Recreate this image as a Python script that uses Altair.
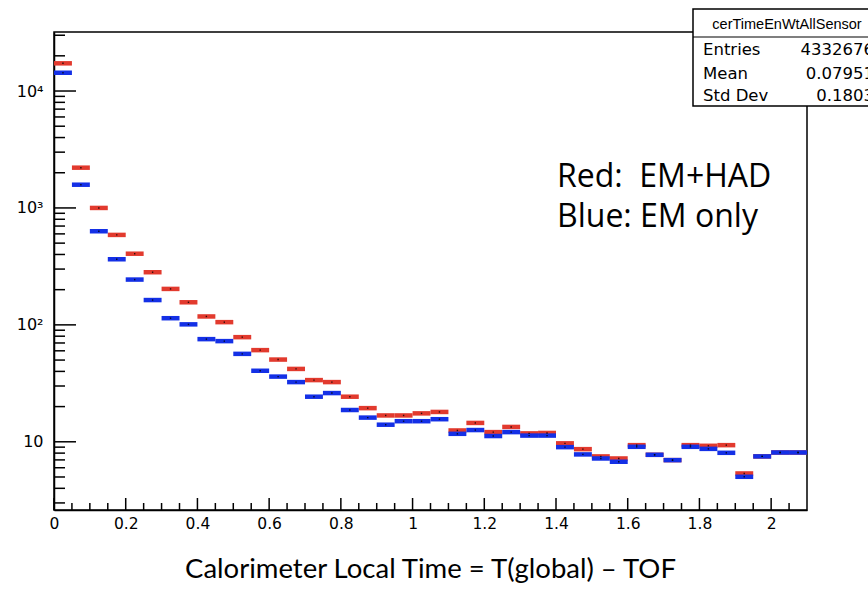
import altair as alt
import pandas as pd

# ---- data (bin width 0.05, x from 0 to 2.1) ----
bin_lo = [0.00, 0.05, 0.10, 0.15, 0.20, 0.25, 0.30, 0.35, 0.40, 0.45,
          0.50, 0.55, 0.60, 0.65, 0.70, 0.75, 0.80, 0.85, 0.90, 0.95,
          1.00, 1.05, 1.10, 1.15, 1.20, 1.25, 1.30, 1.35, 1.40, 1.45,
          1.50, 1.55, 1.60, 1.65, 1.70, 1.75, 1.80, 1.85, 1.90, 1.95,
          2.00, 2.05]
bin_hi = [0.05, 0.10, 0.15, 0.20, 0.25, 0.30, 0.35, 0.40, 0.45, 0.50,
          0.55, 0.60, 0.65, 0.70, 0.75, 0.80, 0.85, 0.90, 0.95, 1.00,
          1.05, 1.10, 1.15, 1.20, 1.25, 1.30, 1.35, 1.40, 1.45, 1.50,
          1.55, 1.60, 1.65, 1.70, 1.75, 1.80, 1.85, 1.90, 1.95, 2.00,
          2.05, 2.10]
red_em_had = [17250, 2210, 1000, 588, 406, 282, 203, 156, 118, 105.5,
              78.5, 60.8, 50.5, 42, 33.7, 32.4, 24.3, 19.4, 16.8, 16.8,
              17.5, 18.0, 12.5, 14.5, 12.1, 13.4, 11.8, 11.9, 9.7, 8.65,
              7.5, 7.2, 9.36, 7.74, 6.97, 9.36, 9.24, 9.36, 5.36, 7.5,
              8.1, 8.1]
blue_em_only = [14330, 1580, 632, 364, 244, 163, 114, 101, 75.5, 72.6,
                56.5, 40.5, 36.1, 32.4, 24.3, 26.1, 18.7, 16.1, 14.0, 15.0,
                15.0, 15.6, 11.7, 12.6, 11.2, 12.1, 11.3, 11.3, 9.0, 7.8,
                7.2, 6.75, 9.06, 7.74, 6.97, 9.06, 8.7, 8.05, 5.02, 7.5,
                8.1, 8.1]

x_major = [0, 0.2, 0.4, 0.6, 0.8, 1, 1.2, 1.4, 1.6, 1.8, 2]
x_minor = [0.05, 0.1, 0.15, 0.25, 0.3, 0.35, 0.45, 0.5, 0.55, 0.65, 0.7, 0.75,
           0.85, 0.9, 0.95, 1.05, 1.1, 1.15, 1.25, 1.3, 1.35, 1.45, 1.5, 1.55,
           1.65, 1.7, 1.75, 1.85, 1.9, 1.95, 2.05]
y_major = [10, 100, 1000, 10000]
y_minor = [3, 4, 5, 6, 7, 8, 9, 20, 30, 40, 50, 60, 70, 80, 90,
           200, 300, 400, 500, 600, 700, 800, 900,
           2000, 3000, 4000, 5000, 6000, 7000, 8000, 9000, 20000, 30000]

stats_title = "cerTimeEnWtAllSensor"
stats_names = ["Entries", "Mean", "Std Dev"]
stats_values = ["4332676", "0.07951", "0.1803"]
legend_lines = ["Red:\u00a0 EM+HAD", "Blue: EM only"]
x_title = "Calorimeter Local Time = T(global) \u2013 TOF"

RED = "#e23a2e"
BLUE = "#1430e6"
W, H = 753, 478

xs = alt.Scale(domain=[0, 2.1], nice=False, zero=False)
ys = alt.Scale(type="log", domain=[2.61, 31970], nice=False)

xax = alt.Axis(values=x_major, format="~g", title=None, ticks=False,
               grid=False, labelFont="DejaVu Sans", labelFontSize=15.5,
               labelColor="black", labelPadding=6, domainColor="black",
               domainWidth=1.5, labelFlush=False)
yax = alt.Axis(values=y_major, title=None, ticks=False, grid=False,
               labelExpr="datum.value == 10 ? '10' : datum.value == 100 ? '10\u00b2' : datum.value == 1000 ? '10\u00b3' : '10\u2074'",
               labelFont="DejaVu Sans", labelFontSize=16,
               labelColor="black", labelPadding=11, domainColor="black",
               domainWidth=1.5)


def X(f):
    return alt.X(f, scale=xs, axis=xax, title=None)


def Y(f):
    return alt.Y(f, scale=ys, axis=yax, title=None)


red_df = pd.DataFrame({"lo": bin_lo, "hi": bin_hi, "val": red_em_had,
                       "mid": [(a + b) / 2 for a, b in zip(bin_lo, bin_hi)]})
blue_df = pd.DataFrame({"lo": bin_lo, "hi": bin_hi, "val": blue_em_only,
                        "mid": [(a + b) / 2 for a, b in zip(bin_lo, bin_hi)]})

red_bars = alt.Chart(red_df).mark_rule(strokeWidth=4.5, color=RED).encode(
    x=X("lo:Q"), x2="hi:Q", y=Y("val:Q"))
blue_bars = alt.Chart(blue_df).mark_rule(strokeWidth=4.5, color=BLUE).encode(
    x=X("lo:Q"), x2="hi:Q", y=Y("val:Q"))
red_dots = alt.Chart(red_df).mark_point(filled=True, shape="square", size=2, color="black", opacity=0.8).encode(
    x=X("mid:Q"), y=Y("val:Q"))
blue_dots = alt.Chart(blue_df).mark_point(filled=True, shape="square", size=2, color="black", opacity=0.8).encode(
    x=X("mid:Q"), y=Y("val:Q"))

ymaj = alt.Chart(pd.DataFrame({"v": y_major})).mark_rule(color="black", strokeWidth=1.5).encode(
    y=Y("v:Q"), x=alt.value(0), x2=alt.value(22))
ymin = alt.Chart(pd.DataFrame({"v": y_minor})).mark_rule(color="black", strokeWidth=1.5).encode(
    y=Y("v:Q"), x=alt.value(0), x2=alt.value(11))
xmaj = alt.Chart(pd.DataFrame({"v": x_major})).mark_rule(color="black", strokeWidth=1.5).encode(
    x=X("v:Q"), y=alt.value(H), y2=alt.value(H - 12))
xmin = alt.Chart(pd.DataFrame({"v": x_minor})).mark_rule(color="black", strokeWidth=1.5).encode(
    x=X("v:Q"), y=alt.value(H), y2=alt.value(H - 7))

# stats box (ROOT style)
box = alt.Chart(pd.DataFrame({"a": [0]})).mark_rect(fill="white", stroke="black", strokeWidth=1.5).encode(
    x=alt.value(639), x2=alt.value(850), y=alt.value(-23), y2=alt.value(74))
sep = alt.Chart(pd.DataFrame({"a": [0]})).mark_rule(color="black", strokeWidth=1.2).encode(
    x=alt.value(639), x2=alt.value(850), y=alt.value(5))
st_title = alt.Chart(pd.DataFrame({"t": [stats_title]})).mark_text(
    font="Liberation Sans", fontSize=14.5, align="center", baseline="alphabetic", color="black").encode(
    x=alt.value(733), y=alt.value(-3), text="t:N")
st_df = pd.DataFrame({"name": stats_names, "value": stats_values, "yy": [22.5, 46.5, 69]})
st_names = alt.Chart(st_df).mark_text(
    font="DejaVu Sans", fontSize=16.5, align="left", baseline="alphabetic", color="black").encode(
    x=alt.value(649), y=alt.Y("yy:Q", scale=None), text="name:N")
st_vals = alt.Chart(st_df).mark_text(
    font="DejaVu Sans", fontSize=16.5, align="right", baseline="alphabetic", color="black").encode(
    x=alt.value(820), y=alt.Y("yy:Q", scale=None), text="value:N")

leg_df = pd.DataFrame({"t": legend_lines, "yy": [155, 195]})
legend_txt = alt.Chart(leg_df).mark_text(
    font="Open Sans", fontSize=32, align="left", baseline="alphabetic", color="black").encode(
    x=alt.value(503), y=alt.Y("yy:Q", scale=None), text="t:N")

title_txt = alt.Chart(pd.DataFrame({"t": [x_title]})).mark_text(
    font="Lato", fontSize=27.5, align="center", baseline="alphabetic", color="black").encode(
    x=alt.value(W / 2), y=alt.value(546), text="t:N")

chart = alt.layer(
    red_bars, blue_bars, red_dots, blue_dots, ymaj, ymin, xmaj, xmin,
    box, sep, st_title, st_names, st_vals, legend_txt, title_txt
).resolve_scale(x="shared", y="shared").properties(
    width=W, height=H,
    autosize=alt.AutoSizeParams(type="none"),
    padding={"left": 54, "top": 32, "right": 61, "bottom": 82},
    background="white",
).configure_view(stroke="black", strokeWidth=1.5)

chart.save("out.html", embed_options={"renderer": "svg", "actions": False})
